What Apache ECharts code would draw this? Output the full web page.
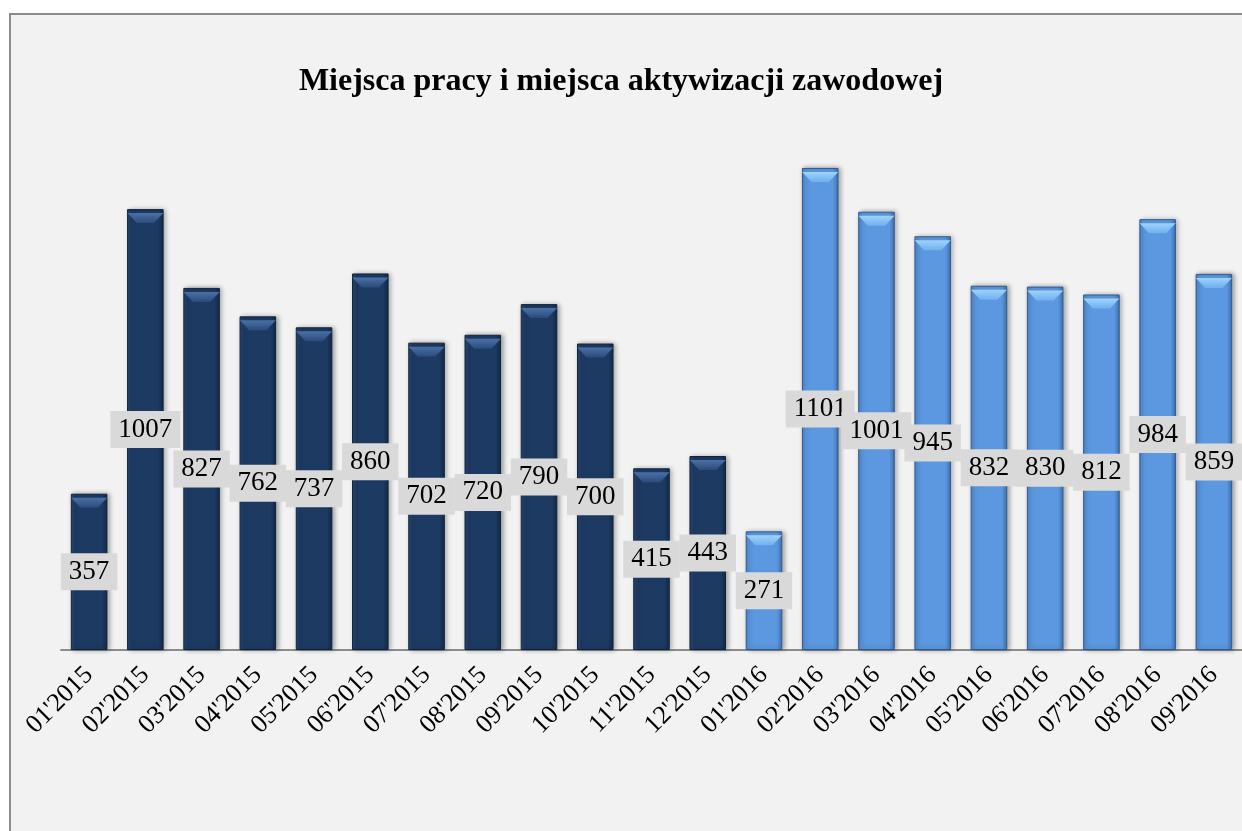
<!DOCTYPE html>
<html>
<head>
<meta charset="utf-8">
<script src="https://cdn.jsdelivr.net/npm/echarts@6/dist/echarts.min.js"></script>
<style>
html,body{margin:0;padding:0;background:#fff;overflow:hidden;width:1242px;height:831px;}
#frame{position:absolute;left:9px;top:13px;width:1300px;height:900px;background:#f2f2f2;border:2px solid #8c8c8c;box-sizing:border-box;}
#c{position:absolute;left:0;top:0;width:1242px;height:831px;}
</style>
</head>
<body>
<div id="frame"></div>
<div id="c"></div>
<script>
var titleText = "Miejsca pracy i miejsca aktywizacji zawodowej";
var categories = ["01'2015","02'2015","03'2015","04'2015","05'2015","06'2015","07'2015","08'2015","09'2015","10'2015","11'2015","12'2015","01'2016","02'2016","03'2016","04'2016","05'2016","06'2016","07'2016","08'2016","09'2016"];
var values = [357,1007,827,762,737,860,702,720,790,700,415,443,271,1101,1001,945,832,830,812,984,859];

function hgrad(edge, mid, edge2){
  return {type:'linear',x:0,y:0,x2:1,y2:0,colorStops:[
    {offset:0,color:edge},{offset:0.12,color:mid},{offset:0.85,color:mid},{offset:1,color:edge2}]};
}
function vgrad(top, bottom){
  return {type:'linear',x:0,y:0,x2:0,y2:1,colorStops:[{offset:0,color:top},{offset:1,color:bottom}]};
}
var darkStyle = {color: hgrad('#2a4a78','#1d3a62','#142a48'), borderColor:'#10233d', borderWidth:1,
  shadowColor:'rgba(0,0,0,0.35)', shadowBlur:5, shadowOffsetX:2};
var lightStyle = {color: hgrad('#4f88cc','#5b98df','#3f72b0'), borderColor:'#2f5a90', borderWidth:1,
  shadowColor:'rgba(0,0,0,0.35)', shadowBlur:5, shadowOffsetX:2};
var darkCap = {color: vgrad('#4a70a5','#2a4c7c')};
var lightCap = {color: vgrad('#9fd2fb','#6fb0ee')};

function is2015(i){ return categories[i].indexOf('2015') >= 0; }

var chart = echarts.init(document.getElementById('c'), null, {renderer:'canvas'});
chart.setOption({
  backgroundColor:'transparent',
  animation:false,
  title:{text:titleText,left:'center',top:61,
    textStyle:{fontFamily:'Liberation Serif',fontSize:32,fontWeight:'bold',color:'#000'}},
  grid:{left:61,width:1185,top:124.6,height:525.4},
  xAxis:{type:'category',data:categories,
    axisLine:{lineStyle:{color:'#8c8c8c',width:2}},
    axisTick:{show:false},
    axisLabel:{rotate:45,interval:0,margin:21,fontFamily:'Liberation Serif',fontSize:26,color:'#000'}},
  yAxis:{type:'value',min:0,max:1200,show:false,splitLine:{show:false}},
  series:[{type:'bar',barWidth:'65%',z:2,
    data:values.map(function(v,i){
      return {value:v,itemStyle: is2015(i) ? darkStyle : lightStyle};
    }),
    label:{show:true,position:'inside',fontFamily:'Liberation Serif',fontSize:27,color:'#000',
      backgroundColor:'#d9d9d9',padding:[5,8,5,8]}
  },{type:'pictorialBar',barWidth:'65%',barGap:'-100%',z:3,silent:true,
    symbol:'path://M0,0 L100,0 L74,10 L26,10 Z',symbolKeepAspect:false,
    symbolPosition:'end',symbolSize:[36,10],symbolOffset:[0,4],
    data:values.map(function(v,i){
      return {value:v,itemStyle: is2015(i) ? darkCap : lightCap};
    })
  }]
});
</script>
</body>
</html>
